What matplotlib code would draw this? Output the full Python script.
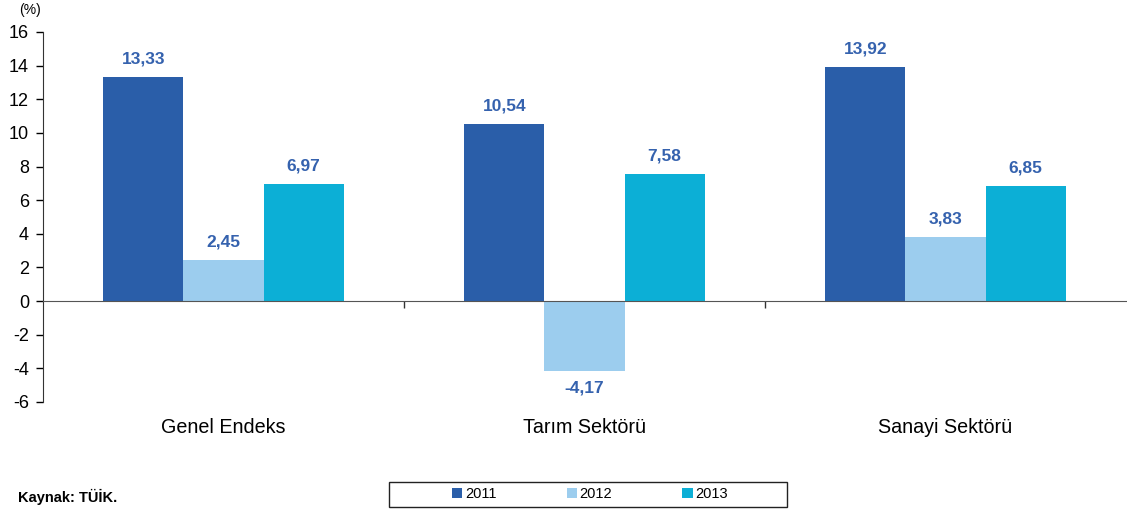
import matplotlib

matplotlib.use("Agg")
import matplotlib.pyplot as plt
import numpy as np
from matplotlib.patches import Patch, Rectangle

plt.rcParams["font.family"] = ["Liberation Sans", "DejaVu Sans"]

categories = ["Genel Endeks", "Tarım Sektörü", "Sanayi Sektörü"]
years = ["2011", "2012", "2013"]
values_2011 = [13.33, 10.54, 13.92]
values_2012 = [2.45, -4.17, 3.83]
values_2013 = [6.97, 7.58, 6.85]
y_ticks = [-6, -4, -2, 0, 2, 4, 6, 8, 10, 12, 14, 16]

colors = ["#2a5ea9", "#9ccdee", "#0cafd6"]
label_color = "#3562ae"

fig = plt.figure(figsize=(11.27, 5.15), dpi=100)
ax = fig.add_axes([43 / 1127, 113 / 515, 1083 / 1127, 370 / 515])

x = np.arange(len(categories))
width = 0.222
series = [values_2011, values_2012, values_2013]
for i, (vals, col) in enumerate(zip(series, colors)):
    pos = x + (i - 1) * width
    ax.bar(pos, vals, width=width, color=col, zorder=2)
    for px, v in zip(pos, vals):
        txt = f"{v:.2f}".replace(".", ",")
        if v >= 0:
            ax.text(px, v + 0.6, txt, ha="center", va="bottom",
                    fontsize=12.5, fontweight="bold", color=label_color)
        else:
            ax.text(px, v - 0.55, txt, ha="center", va="top",
                    fontsize=12.5, fontweight="bold", color=label_color)

ax.set_xlim(-0.5, 2.5)
ax.set_ylim(-6, 16)
ax.set_yticks(y_ticks)
ax.set_yticklabels([str(t) for t in y_ticks], fontsize=13)
ax.tick_params(axis="y", direction="out", length=5, width=1, pad=5)

ax.spines["top"].set_visible(False)
ax.spines["right"].set_visible(False)
ax.spines["bottom"].set_position(("data", 0))
ax.spines["bottom"].set_color("#555555")
ax.spines["left"].set_color("#333333")
ax.set_xticks([0.5, 1.5])
ax.set_xticklabels([])
ax.tick_params(axis="x", direction="out", length=5, width=1, color="#333333")

for xi, cat in zip(x, categories):
    ax.text(xi, -7.5, cat, ha="center", va="center", fontsize=14.2)

fig.text(30 / 1127, 1 - 10 / 515, "(%)", ha="center", va="center", fontsize=10)
fig.text(18 / 1127, 1 - 497 / 515, "Kaynak: TÜİK.", ha="left", va="center",
         fontsize=10.5, fontweight="bold")

# legend frame drawn separately so it can be wider than its entries
fig.patches.append(Rectangle((389 / 1127, 1 - 507 / 515), 398 / 1127, 25 / 515,
                             transform=fig.transFigure, fill=False,
                             edgecolor="#222222", linewidth=1.0))
handles = [Patch(facecolor=c, edgecolor="none") for c in colors]
fig.legend(handles, years, ncol=3, loc="center",
           bbox_to_anchor=(590 / 1127, 1 - 494 / 515),
           fontsize=10.5, frameon=False,
           handlelength=0.7, handleheight=0.7, handletextpad=0.2,
           borderpad=0.3, columnspacing=4.8)

fig.savefig("out.png", dpi=100)
